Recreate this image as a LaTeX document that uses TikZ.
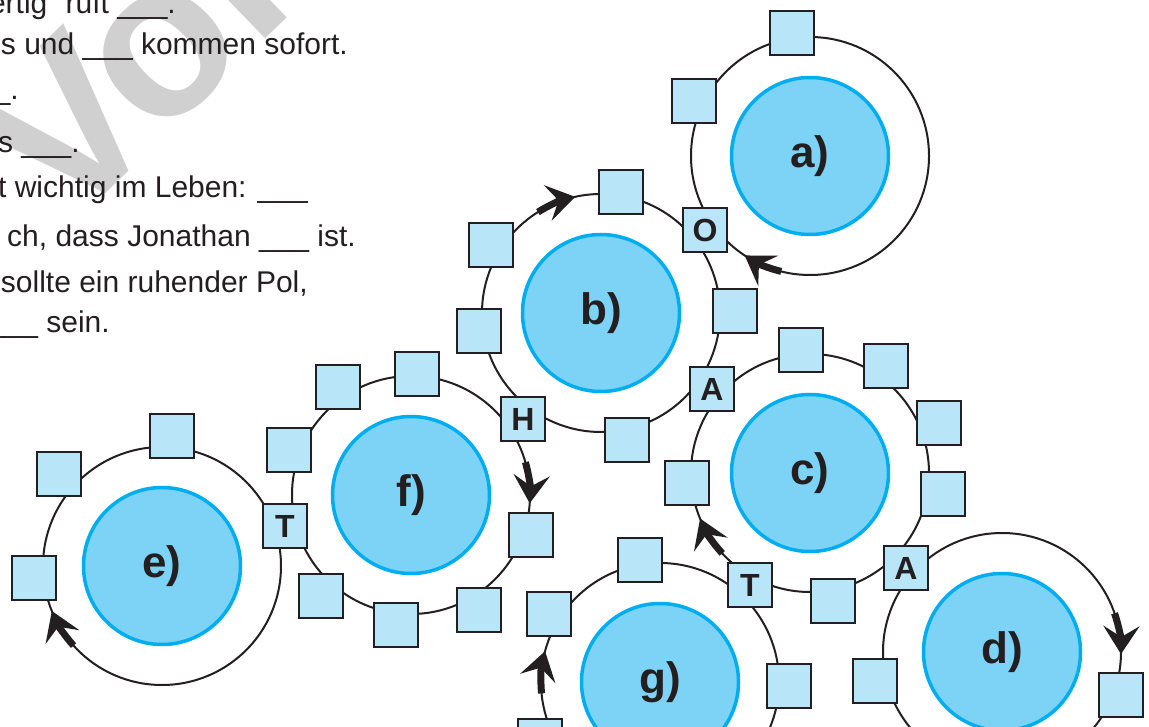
\documentclass[tikz,border=0pt]{standalone}
\usepackage{fontspec}
\setmainfont{Liberation Sans}
\usetikzlibrary{arrows.meta,calc}
\definecolor{ink}{HTML}{231F20}
\definecolor{discfill}{HTML}{7DD3F5}
\definecolor{discedge}{HTML}{00AEEF}
\definecolor{boxfill}{HTML}{B9E5F9}
\definecolor{wmgray}{HTML}{D0D0D0}
\newcommand{\gap}{\_\_\_}
\begin{document}
\begin{tikzpicture}[x=1pt,y=-1pt,
  ring/.style={draw=ink,line width=2pt},
  disc/.style={circle,draw=discedge,fill=discfill,line width=3.5pt,minimum size=157pt,inner sep=0pt,
    font=\fontsize{44}{44}\selectfont\bfseries,text=ink},
  box/.style={draw=ink,fill=boxfill,line width=2.2pt,minimum size=44pt,inner sep=0pt,
    font=\fontsize{32}{32}\selectfont\bfseries,text=ink},
  turn/.style={draw=ink,line width=7pt,-{Stealth[length=28pt,width=36pt,inset=11pt]}},
  txt/.style={anchor=base east,font=\fontsize{30}{30}\selectfont,text=ink,inner sep=0pt}
]
\useasboundingbox (0,0) rectangle (1149,727);
\clip (0,0) rectangle (1149,727);

% watermark
\node[rotate=44,anchor=base west,inner sep=0pt,text=wmgray,
  font=\fontsize{220}{220}\selectfont\bfseries] (wmk) at (64,234) {Vorschau};

% text lines
\node[txt] (l1) at (176,14) {fertig“ ruft \gap.};
\node[txt] (l2) at (348,55) {s und \gap{} kommen sofort.};
\node[txt] (l3) at (19,100) {\gap.};
\node[txt] (l4) at (80,153) {s \gap.};
\node[txt] (l5) at (308,198) {t wichtig im Leben: \gap};
\node[txt] (l6) at (356,247) {ch, dass Jonathan \gap{} ist.};
\node[txt] (l7) at (308,293) {sollte ein ruhender Pol,};
\node[txt] (l8) at (110,333) {\gap{} sein.};

% discs
\node[disc] (ca) at (810,156) {a)};
\node[disc] (cb) at (601,313) {b)};
\node[disc] (cc) at (810,473) {c)};
\node[disc] (cd) at (1002,652) {d)};
\node[disc] (ce) at (162,566) {e)};
\node[disc] (cf) at (411,495) {f)};
\node[disc] (cg) at (660,682) {g)};

% rings
\foreach \c in {ca,cb,cc,cd,ce,cf,cg}
  \draw[ring] (\c.center) circle[radius=119];

% arrows on rings
\coordinate (ta) at ($(ca.center)+(104:119)$);
\coordinate (tb) at ($(cb.center)+(-122:119)$);
\coordinate (tf) at ($(cf.center)+(-16:119)$);
\coordinate (tc) at ($(cc.center)+(137.5:119)$);
\coordinate (te) at ($(ce.center)+(138:119)$);
\coordinate (tg) at ($(cg.center)+(174.5:119)$);
\coordinate (td) at ($(cd.center)+(-19:119)$);
\draw[turn] (ta) arc[start angle=104,end angle=123.3,radius=119];
\draw[turn] (tb) arc[start angle=-122,end angle=-102.5,radius=119];
\draw[turn] (tf) arc[start angle=-16,end angle=4,radius=119];
\draw[turn] (tc) arc[start angle=137.5,end angle=157.5,radius=119];
\draw[turn] (te) arc[start angle=138,end angle=157.8,radius=119];
\draw[turn] (tg) arc[start angle=174.5,end angle=195,radius=119];
\draw[turn] (td) arc[start angle=-19,end angle=1,radius=119];

% boxes: ring a
\node[box] (a1) at (792,33) {};
\node[box] (a2) at (694,101) {};
\node[box] (xO) at (705,230) {O};
% ring b
\node[box] (b1) at (621,192) {};
\node[box] (b2) at (491,245) {};
\node[box] (b3) at (479,331) {};
\node[box] (b4) at (735,311) {};
\node[box] (xA1) at (712,389) {A};
\node[box] (b5) at (627,440) {};
\node[box] (xH) at (523,419) {H};
% ring c
\node[box] (c1) at (801,350) {};
\node[box] (c2) at (886,366) {};
\node[box] (c3) at (939,423) {};
\node[box] (c4) at (943,494) {};
\node[box] (xA2) at (906,568) {A};
\node[box] (c5) at (833,601) {};
\node[box] (xT1) at (750,585) {T};
\node[box] (c6) at (687,483) {};
% ring e
\node[box] (e1) at (172,436) {};
\node[box] (e2) at (59,474) {};
\node[box] (e3) at (34,578) {};
\node[box] (xT2) at (285,526) {T};
% ring f
\node[box] (f1) at (289,450) {};
\node[box] (f2) at (338,387) {};
\node[box] (f3) at (417,374) {};
\node[box] (f4) at (531,535) {};
\node[box] (f5) at (479,610) {};
\node[box] (f6) at (396,625) {};
\node[box] (f7) at (321,596) {};
% ring g
\node[box] (g1) at (640,560) {};
\node[box] (g2) at (549,614) {};
\node[box] (g3) at (789,686) {};
\node[box] (g4) at (540,741) {};
% ring d
\node[box] (d1) at (875,681) {};
\node[box] (d2) at (1121,695) {};
\end{tikzpicture}
\end{document}
